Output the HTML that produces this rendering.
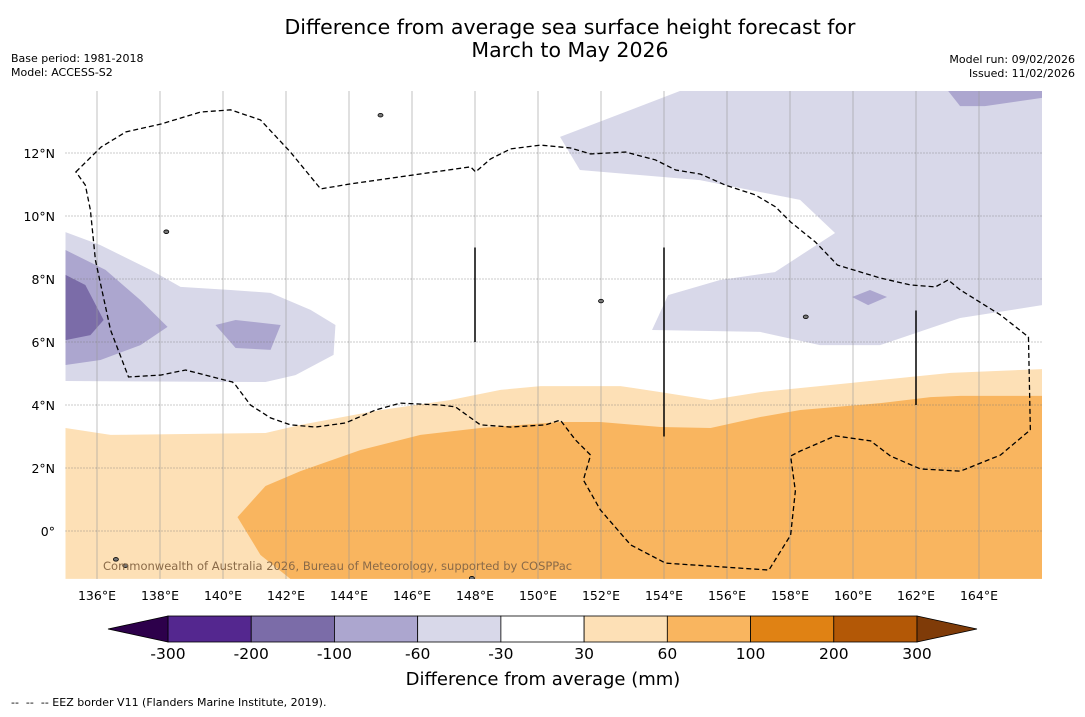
<!DOCTYPE html>
<html><head><meta charset="utf-8"><style>
body{margin:0;background:#fff;width:1085px;height:713px;overflow:hidden;font-family:"DejaVu Sans",sans-serif}
</style></head><body>
<svg id="chart" width="1085" height="713" xmlns="http://www.w3.org/2000/svg" font-family="DejaVu Sans, sans-serif">
<text x="570" y="34" font-size="20.5" text-anchor="middle">Difference from average sea surface height forecast for</text>
<text x="570" y="57" font-size="20.5" text-anchor="middle">March to May 2026</text>
<text x="11" y="62" font-size="11">Base period: 1981-2018</text>
<text x="11" y="76" font-size="11">Model: ACCESS-S2</text>
<text x="1075" y="63" font-size="11" text-anchor="end">Model run: 09/02/2026</text>
<text x="1075" y="77" font-size="11" text-anchor="end">Issued: 11/02/2026</text>
<g id="map"></g>
<g id="cbar"></g>
<text x="543" y="685" font-size="18" text-anchor="middle">Difference from average (mm)</text>
<text x="11" y="706" font-size="11">--&#160;&#160;--&#160;&#160;-- EEZ border V11 (Flanders Marine Institute, 2019).</text>
</svg>
<script>
const NS="http://www.w3.org/2000/svg";
const lonTicks=[136,138,140,142,144,146,148,150,152,154,156,158,160,162,164];
const latTicks=[0,2,4,6,8,10,12];
const cbarBounds=[-300,-200,-100,-60,-30,30,60,100,200,300];
const cbarColors=["#54278f","#7b6ca8","#aca6cf","#d8d8e9","#ffffff","#fde0b6","#f9b55f","#e08214","#b35806"];
const regions=[
 {level:"neg60",color:"#d8d8e9",pts:[[150.7,12.51],[154.51,13.97],[166,13.97],[166,7.17],[163.4,6.76],[160.86,5.9],[158.95,5.9],[157.05,6.32],[153.62,6.38],[154.13,7.49],[155.78,7.97],[157.52,8.22],[159.43,9.46],[158.32,10.51],[155.14,11.14],[151.33,11.46]]},
 {level:"neg100",color:"#aca6cf",pts:[[163.02,13.97],[166,13.97],[166,13.75],[164.19,13.49],[163.4,13.49]]},
 {level:"neg100",color:"#aca6cf",pts:[[159.97,7.43],[160.54,7.65],[161.08,7.43],[160.48,7.17]]},
 {level:"neg60",color:"#d8d8e9",pts:[[135,9.49],[136.1,9.08],[137.7,8.29],[138.65,7.75],[140.24,7.65],[141.51,7.56],[142.78,7.02],[143.57,6.54],[143.51,5.59],[142.3,4.95],[141.35,4.73],[135,4.76]]},
 {level:"neg100",color:"#aca6cf",pts:[[135,8.92],[136.27,8.29],[137.38,7.33],[138.24,6.48],[137.38,5.9],[136.11,5.43],[135,5.27]]},
 {level:"neg100",color:"#aca6cf",pts:[[139.76,6.54],[140.4,6.7],[141.83,6.54],[141.51,5.75],[140.4,5.81]]},
 {level:"neg200",color:"#7b6ca8",pts:[[135,8.13],[135.63,7.81],[136.21,6.7],[135.79,6.22],[135,6.06]]},
 {level:"pos30",color:"#fde0b6",pts:[[135,3.27],[136.43,3.05],[141.35,3.11],[142.46,3.37],[145,3.84],[147.22,4.16],[148.81,4.48],[150.08,4.6],[152.62,4.6],[153.89,4.41],[155.48,4.16],[157.06,4.41],[159.92,4.7],[163.1,5.02],[166,5.14],[166,-1.52],[135,-1.52]]},
 {level:"pos60",color:"#f9b55f",pts:[[166,4.29],[163.4,4.29],[162.46,4.25],[160.87,4.06],[158.33,3.84],[157.06,3.62],[155.48,3.27],[153.89,3.3],[151.98,3.46],[150.71,3.46],[148.17,3.27],[146.27,3.05],[144.37,2.57],[142.46,1.9],[141.35,1.43],[140.46,0.44],[141.19,-0.76],[142.14,-1.52],[166,-1.52]]}
];
const eez=[[135.33,11.4],[136.13,12.19],[136.92,12.67],[138.03,12.92],[139.29,13.3],[140.24,13.37],[141.19,13.05],[142.14,12.03],[143.1,10.86],[144.05,11.02],[147.86,11.56],[148.02,11.4],[148.49,11.81],[149.13,12.13],[150.08,12.25],[151.03,12.16],[151.67,11.97],[152.78,12.03],[153.73,11.78],[154.37,11.46],[155.16,11.33],[155.95,10.98],[156.9,10.67],[157.54,10.29],[158.02,9.81],[158.81,9.17],[159.51,8.44],[160.87,8.03],[161.83,7.81],[162.62,7.75],[163.02,7.97],[163.41,7.65],[164.68,6.86],[165.57,6.16],[165.63,3.21],[164.68,2.41],[163.41,1.9],[162.14,1.97],[161.19,2.38],[160.56,2.86],[159.44,3.02],[158.33,2.54],[158.02,2.38],[158.17,1.27],[158.02,-0.13],[157.33,-1.24],[154.05,-1.02],[152.94,-0.44],[151.98,0.67],[151.44,1.62],[151.67,2.41],[151.19,2.89],[150.71,3.52],[150.24,3.37],[149.13,3.3],[148.17,3.37],[147.38,3.94],[146.9,4.0],[145.63,4.06],[144.84,3.84],[143.89,3.43],[142.94,3.3],[142.14,3.37],[141.51,3.59],[140.87,4.0],[140.4,4.63],[140.3,4.73],[138.81,5.11],[138.02,4.95],[137.0,4.89],[136.43,6.38],[135.95,8.6],[135.79,10.19],[135.63,10.98]];
const sticks=[[148,9,6],[154,9,3],[162,7,4]];
const islands=[[145,13.2],[158.5,6.8],[152,7.3],[136.6,-0.9],[136.9,-1.1],[147.9,-1.5],[138.2,9.5]];
const x0=65.5,x1=1042,y0=91,y1=579;
const X=lon=>x0+(lon-135)*31.5;
const Y=lat=>531-lat*31.5;
function mk(tag,attrs,parent){const e=document.createElementNS(NS,tag);for(const k in attrs)e.setAttribute(k,attrs[k]);parent.appendChild(e);return e;}
const map=document.getElementById('map');
const clip=mk('clipPath',{id:'mclip'},map);mk('rect',{x:x0,y:y0,width:x1-x0,height:y1-y0},clip);
const g=mk('g',{'clip-path':'url(#mclip)'},map);
regions.forEach(r=>{
 const p=mk('polygon',{points:r.pts.map(q=>X(q[0])+','+Y(q[1])).join(' '),fill:r.color,stroke:'none'},g);
 
 
});
lonTicks.forEach(l=>{
 const ln=mk('line',{x1:X(l),x2:X(l),y1:y0,y2:y1,stroke:'#999','stroke-width':0.6},g);
 
 
 const t=mk('text',{x:X(l),y:600,'font-size':12.5,'text-anchor':'middle'},map);t.textContent=l+'°E';
 
 
});
latTicks.forEach(l=>{
 const ln=mk('line',{x1:x0,x2:x1,y1:Y(l),y2:Y(l),stroke:'#777','stroke-width':0.7,'stroke-dasharray':'1,2'},g);
 
 
 const t=mk('text',{x:55,y:Y(l)+5,'font-size':12.5,'text-anchor':'end'},map);t.textContent=l===0?'0°':l+'°N';
 
 
});
const e=mk('polygon',{points:eez.map(q=>X(q[0])+','+Y(q[1])).join(' '),fill:'none',stroke:'#000','stroke-width':1.3,'stroke-dasharray':'5,3'},g);


sticks.forEach(s=>{
 const l=mk('line',{x1:X(s[0]),x2:X(s[0]),y1:Y(s[1]),y2:Y(s[2]),stroke:'#000','stroke-width':1.5},g);
 
 
});
islands.forEach(s=>{
 const c=mk('ellipse',{cx:X(s[0]),cy:Y(s[1]),rx:2.5,ry:1.8,fill:'#777',stroke:'#000','stroke-width':0.8},g);
 
 
});
const wm=mk('text',{x:103,y:570,'font-size':11.5,fill:'#8a6a48'},map);
wm.textContent='Commonwealth of Australia 2026, Bureau of Meteorology, supported by COSPPac';


const cb=document.getElementById('cbar');
const cx0=168,cx1=917,cy=616,ch=26,cw=(cx1-cx0)/cbarColors.length;
cbarColors.forEach((c,i)=>{
 const r=mk('rect',{x:cx0+i*cw,y:cy,width:cw,height:ch,fill:c,stroke:'#000','stroke-width':0.8},cb);
 
 
});
const tl=mk('polygon',{points:`108,${cy+ch/2} ${cx0},${cy} ${cx0},${cy+ch}`,fill:'#2d004b',stroke:'#000','stroke-width':0.8},cb);


const tr=mk('polygon',{points:`977,${cy+ch/2} ${cx1},${cy} ${cx1},${cy+ch}`,fill:'#7f3b08',stroke:'#000','stroke-width':0.8},cb);


cbarBounds.forEach((b,i)=>{
 const t=mk('text',{x:cx0+i*cw,y:659,'font-size':15.5,'text-anchor':'middle'},cb);t.textContent=b;
 
 
});
</script>
</body></html>
